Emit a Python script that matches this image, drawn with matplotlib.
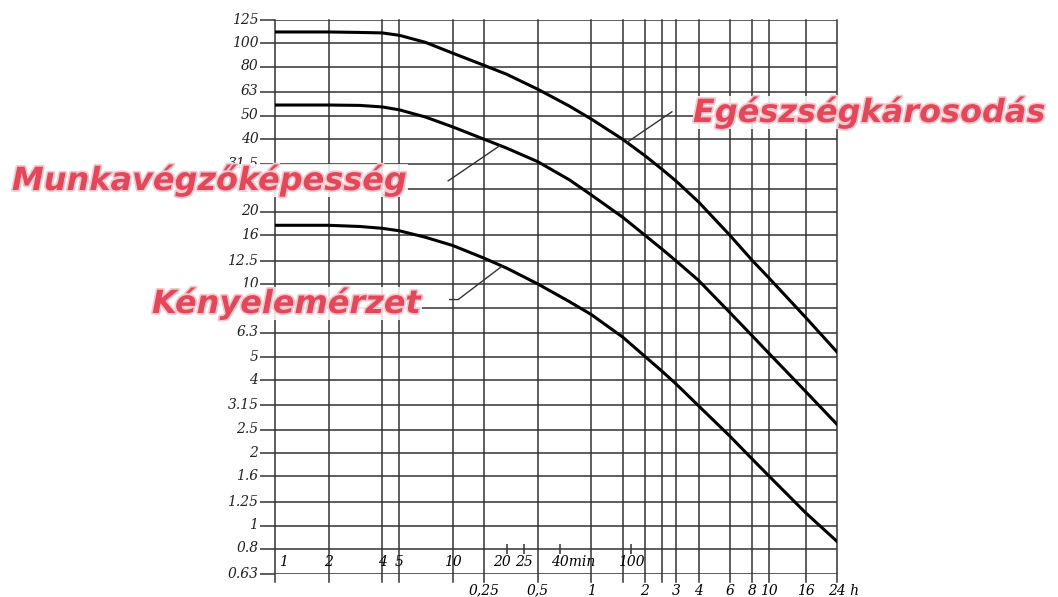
import numpy as np
import matplotlib
matplotlib.use("Agg")
import matplotlib.pyplot as plt
from matplotlib import transforms, patheffects
from matplotlib.ticker import NullLocator

# Exposure time (minutes) and limit curves (acceleration, logarithmic scale)
minutes = [1, 2, 3, 4, 5, 7, 10, 15, 20, 30, 45, 60, 90, 120, 150, 180, 240, 360, 480, 600, 960, 1440]
health = [111.5, 111.5, 111, 110.5, 108, 101, 91, 81, 74.5, 64.5, 55, 48.5, 40, 34.2, 30, 26.8, 22, 16, 12.6, 10.6, 7.3, 5.25]
proficiency = [55.5, 55.5, 55.3, 54.5, 53, 49.5, 45, 40, 36.8, 32.3, 27.2, 23.5, 19, 16, 14, 12.5, 10.4, 7.65, 6.13, 5.16, 3.6, 2.63]
comfort = [17.6, 17.6, 17.4, 17.1, 16.7, 15.7, 14.5, 12.85, 11.7, 10.05, 8.5, 7.5, 6.05, 5.03, 4.36, 3.86, 3.14, 2.35, 1.89, 1.6, 1.13, 0.86]

# Third-octave acceleration levels
levels = [125, 100, 80, 63, 50, 40, 31.5, 25, 20, 16, 12.5, 10, 8, 6.3, 5, 4, 3.15, 2.5, 2, 1.6, 1.25, 1, 0.8, 0.63]
level_labels = ["125", "100", "80", "63", "50", "40", "31.5", "25", "20", "16", "12.5", "10",
                "8", "6.3", "5", "4", "3.15", "2.5", "2", "1.6", "1.25", "1", "0.8", "0.63"]

# Vertical grid (minutes)
grid_minutes = [1, 2, 4, 5, 10, 15, 30, 60, 90, 120, 150, 180, 240, 360, 480, 600, 960, 1440]

# Time scale labels: minutes row and hours row
minute_ticks = [1, 2, 4, 5, 10, 20, 25, 40, 100]
minute_labels = ["1", "2", "4", "5", "10", "20", "25", "40min", "100"]
minute_shift = [3, 0, 0, 0, 0, -3, 0, -6.5, 0]
minute_marks = [20, 25, 40, 100]
hour_ticks = [15, 30, 60, 120, 180, 240, 360, 480, 600, 960, 1440]
hour_labels = ["0,25", "0,5", "1", "2", "3", "4", "6", "8", "10", "16", "24 h"]

curve_names = ["Egészségkárosodás", "Munkavégzőképesség", "Kényelemérzet"]

GRID = "#333333"
RED = "#e4465a"
SERIF = {"family": "DejaVu Serif", "style": "italic", "size": 10}

fig = plt.figure(figsize=(10.58, 5.97), dpi=100)
ax = fig.add_axes([275 / 1058, 23 / 597, 562 / 1058, 554 / 597])
ax.set_xscale("log")
ax.set_yscale("log")
ax.set_xlim(1, 1440)
ax.set_ylim(0.63, 125)
for s in ax.spines.values():
    s.set_visible(False)

ax.set_xticks([])
ax.xaxis.set_minor_locator(NullLocator())
ax.set_yticks(levels)
ax.set_yticklabels(level_labels, fontdict=SERIF, color="#222222")
ax.yaxis.set_minor_locator(NullLocator())
ax.tick_params(axis="y", length=11, width=1.1, color=GRID, pad=1)
lift = transforms.ScaledTranslation(0, 2 / 100, fig.dpi_scale_trans)
for lab in ax.get_yticklabels():
    lab.set_transform(lab.get_transform() + lift)

for v in levels:
    ax.axhline(v, color=GRID, lw=1.1, zorder=1)
for t in grid_minutes:
    ax.axvline(t, ymin=-0.015, ymax=1.0, color=GRID, lw=1.1, zorder=1, clip_on=False)

ax.plot(minute_marks, [0.8] * len(minute_marks), linestyle="none", marker="|",
        markersize=7, markeredgewidth=1.1, color=GRID, zorder=2)

# Limit curves
for series in (health, proficiency, comfort):
    ax.plot(minutes, series, color="black", lw=2.2, zorder=4, solid_joinstyle="round")

# Time scale texts
xt = transforms.blended_transform_factory(ax.transData, ax.transAxes)
for t, lab, dx in zip(minute_ticks, minute_labels, minute_shift):
    ha = "left" if (lab.endswith("min") or lab == "1") else "center"
    ax.annotate(lab, (t, 0.022), xycoords=xt, xytext=(dx, 0), textcoords="offset points",
                ha=ha, va="center", **SERIF)
for t, lab in zip(hour_ticks, hour_labels):
    if lab.endswith("h"):
        ax.annotate(lab, (t, -0.03), xycoords=xt, xytext=(-6.5, 0), textcoords="offset points",
                    ha="left", va="center", annotation_clip=False, **SERIF)
    else:
        ax.text(t, -0.03, lab, transform=xt, ha="center", va="center", **SERIF)


def on_curve(series, t):
    return 10 ** np.interp(np.log10(t), np.log10(minutes), np.log10(series))


# Leader lines from the curve names to the curves
leaders = [
    ([95, 170], [on_curve(health, 95), 52]),
    ([9.4, 18.4], [26.9, on_curve(proficiency, 18.4)]),
    ([9.6, 10.7, 18.9], [8.66, 8.66, on_curve(comfort, 18.9)]),
]
for xs, ys in leaders:
    ax.plot(xs, ys, color="#333333", lw=1.0, zorder=5, clip_on=False)

halo = [patheffects.withStroke(linewidth=2.5, foreground="#f6c9cf")]
label_style = dict(family="DejaVu Sans", weight="bold", style="italic", size=23,
                   color=RED, va="baseline", ha="left", zorder=6, path_effects=halo,
                   bbox=dict(facecolor="white", edgecolor="none", alpha=0.85, pad=0.3))
fig.text(693 / 1058, 1 - 122 / 597, curve_names[0], **label_style)
fig.text(12 / 1058, 1 - 190 / 597, curve_names[1], **label_style)
fig.text(152 / 1058, 1 - 313 / 597, curve_names[2], **label_style)

fig.savefig("out.png", dpi=100, facecolor="white")
